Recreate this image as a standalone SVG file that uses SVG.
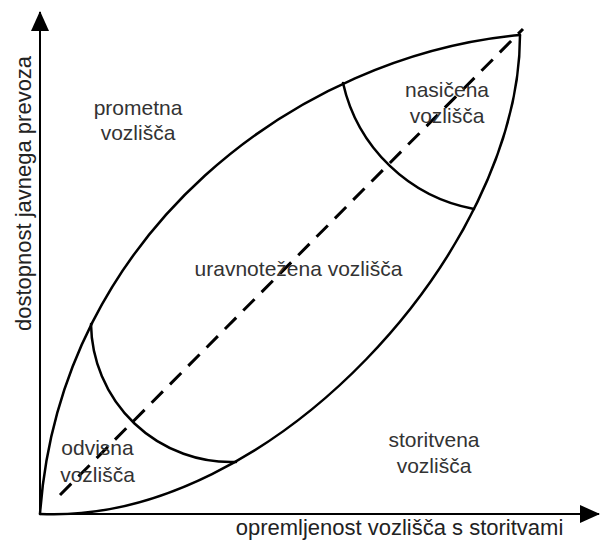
<svg xmlns="http://www.w3.org/2000/svg" width="600" height="543" viewBox="0 0 600 543">
<style>
.curve{fill:none;stroke:#000;stroke-width:2.5;stroke-linecap:round}
.axis{fill:none;stroke:#000;stroke-width:2}
.dash{fill:none;stroke:#000;stroke-width:3;stroke-dasharray:16 10}
.lbl{font-family:"Liberation Sans",Arial,sans-serif;font-size:21px;fill:#333;text-anchor:middle}
.ax{font-family:"Liberation Sans",Arial,sans-serif;font-size:22px;fill:#222;text-anchor:middle}
</style>
<defs>
<marker id="arr" viewBox="0 0 20 18" refX="19" refY="9" markerWidth="20" markerHeight="18" markerUnits="userSpaceOnUse" orient="auto">
<path d="M0,0 L20,9 L0,18 Z" fill="#000"/>
</marker>
</defs>
<rect width="600" height="543" fill="#fff"/>
<g id="axes">
<line class="axis" x1="40" y1="514" x2="40" y2="12" marker-end="url(#arr)"/>
<line class="axis" x1="40" y1="514" x2="599" y2="514" marker-end="url(#arr)"/>
<text class="ax" transform="translate(31,193.5) rotate(-90)">dostopnost javnega prevoza</text>
<text class="ax" x="399.5" y="535">opremljenost vozlišča s storitvami</text>
</g>
<g id="connectors">
<path class="curve" d="M40,514 C60,230 300,55 520,35"/>
<path class="curve" d="M40,514 C270,525 520,250 520,35"/>
<path class="curve" d="M91,324 A140 140 0 0 0 236,462"/>
<path class="curve" d="M343,83 A165 165 0 0 0 474,209"/>
<line class="dash" x1="60" y1="495" x2="523" y2="29"/>
</g>
<g id="prometna">
<text class="lbl" x="138" y="115">prometna</text>
<text class="lbl" x="138" y="140">vozlišča</text>
</g>
<g id="nasicena">
<text class="lbl" x="447" y="97">nasičena</text>
<text class="lbl" x="447" y="123">vozlišča</text>
</g>
<g id="uravnotezena">
<text class="lbl" x="298.5" y="276">uravnotežena vozlišča</text>
</g>
<g id="odvisna">
<text class="lbl" x="97.5" y="455">odvisna</text>
<text class="lbl" x="97.5" y="482">vozlišča</text>
</g>
<g id="storitvena">
<text class="lbl" x="434" y="447">storitvena</text>
<text class="lbl" x="434" y="473">vozlišča</text>
</g>
</svg>
